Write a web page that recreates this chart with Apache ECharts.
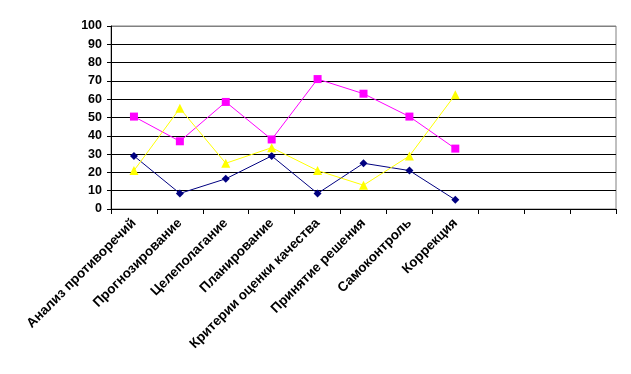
<!DOCTYPE html>
<html><head><meta charset="utf-8">
<script src="https://cdn.jsdelivr.net/npm/echarts@6/dist/echarts.min.js"></script>
<style>html,body{margin:0;padding:0;background:#fff}#c{width:631px;height:374px}</style>
</head><body><div id="c"></div>
<script>
const categories = ["Анализ противоречий","Прогнозирование","Целеполагание","Планирование","Критерии оценки качества","Принятие решения","Самоконтроль","Коррекция","","",""];
const seriesBlue = [29, 8.5, 16.5, 29, 8.5, 25, 21, 5];
const seriesMagenta = [50.5, 37, 58.5, 38, 71, 63, 50.5, 33];
const seriesYellow = [21, 55, 25, 33.5, 21, 13, 29, 62.5];
const yTicks = {min: 0, max: 100, interval: 10};

const chart = echarts.init(document.getElementById('c'), null, {renderer: 'canvas'});
const gridColors = ['#000','#000','#000','#000','#000','#000','#000','#000','#000','#000','#808080'];
chart.setOption({
  animation: false,
  grid: {left: 111, right: 15, top: 26, bottom: 165, show: true, borderColor: '#808080', borderWidth: 1, backgroundColor: 'transparent'},
  xAxis: {
    type: 'category', data: categories, boundaryGap: true,
    axisLine: {lineStyle: {color: '#000', width: 1}},
    axisTick: {show: true, length: 5, interval: 0, lineStyle: {color: '#000'}},
    axisLabel: {interval: 0, rotate: 45, margin: 12, color: '#000', fontFamily: 'Arial, "Liberation Sans", sans-serif', fontWeight: 'bold', fontSize: 13.5},
    splitLine: {show: false}
  },
  yAxis: {
    type: 'value', min: yTicks.min, max: yTicks.max, interval: yTicks.interval,
    axisLine: {show: true, lineStyle: {color: '#000', width: 1}},
    axisTick: {show: true, length: 4, lineStyle: {color: '#000'}},
    axisLabel: {color: '#000', fontFamily: 'Arial, "Liberation Sans", sans-serif', fontWeight: 'bold', fontSize: 12.5, margin: 9},
    splitLine: {show: true, lineStyle: {color: gridColors, width: 1}}
  },
  series: [
    {type: 'line', data: seriesBlue, symbol: 'diamond', symbolSize: 8, itemStyle: {color: '#000080'}, lineStyle: {color: '#000080', width: 1}},
    {type: 'line', data: seriesMagenta, symbol: 'rect', symbolSize: 8, itemStyle: {color: '#FF00FF'}, lineStyle: {color: '#FF00FF', width: 1}},
    {type: 'line', data: seriesYellow, symbol: 'triangle', symbolSize: 9, itemStyle: {color: '#FFFF00'}, lineStyle: {color: '#FFFF00', width: 1}}
  ]
});
</script></body></html>
